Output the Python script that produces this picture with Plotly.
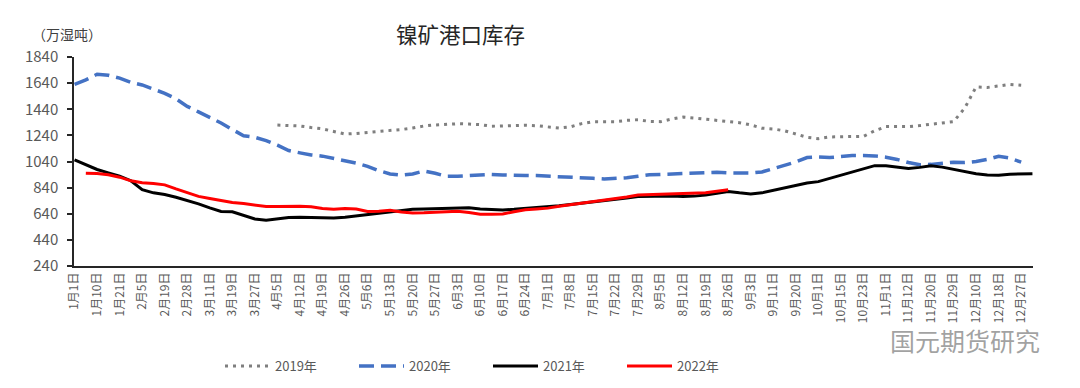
import plotly.graph_objects as go

# Category axis: 86 positions, labels shown on every second position
tick_labels = ["1月1日", "1月10日", "1月21日", "2月5日", "2月19日", "2月28日", "3月11日", "3月19日",
               "3月27日", "4月5日", "4月12日", "4月19日", "4月26日", "5月6日", "5月13日", "5月20日",
               "5月27日", "6月3日", "6月10日", "6月17日", "6月24日", "7月1日", "7月8日", "7月15日",
               "7月22日", "7月29日", "8月5日", "8月12日", "8月19日", "8月26日", "9月3日", "9月11日",
               "9月20日", "10月1日", "10月15日", "10月23日", "11月1日", "11月12日", "11月20日",
               "11月29日", "12月10日", "12月18日", "12月27日"]
n_cat = 86

y2019 = [None] * 18 + [
    1319, 1316, 1312, 1300, 1290, 1270, 1250, 1255, 1262, 1270, 1278, 1285, 1296, 1312, 1320, 1326,
    1329, 1327, 1322, 1310, 1312, 1318, 1318, 1314, 1305, 1296, 1305, 1330, 1345, 1345, 1345, 1355,
    1360, 1347, 1345, 1365, 1380, 1373, 1365, 1353, 1345, 1337, 1320, 1295, 1289, 1275, 1251, 1225,
    1215, 1228, 1230, 1230, 1232, 1275, 1307, 1307, 1307, 1315, 1324, 1333, 1345, 1450, 1611, 1607,
    1620, 1630, 1624, None]

y2020 = [
    1630, 1665, 1708, 1700, 1678, 1645, 1626, 1597, 1562, 1520, 1462, 1420, 1380, 1335, 1285, 1237,
    1225, 1200, 1165, 1124, 1106, 1090, 1081, 1063, 1047, 1028, 1003, 970, 945, 935, 945, 967,
    950, 926, 927, 931, 938, 941, 937, 933, 933, 932, 929, 924, 922, 917, 911, 906,
    910, 916, 927, 938, 941, 944, 945, 948, 952, 957, 953, 951, 952, 960, 985, 1007,
    1036, 1070, 1074, 1070, 1079, 1085, 1085, 1083, 1073, 1056, 1032, 1015, 1018, 1025, 1035, 1032,
    1040, 1056, 1080, 1066, 1035, None]

y2021 = [
    1053, 1013, 979, 953, 928, 893, 825, 800, 787, 766, 742, 716, 685, 658, 655, 626,
    600, 590, 600, 612, 613, 613, 609, 608, 614, 624, 634, 646, 658, 668, 674, 676,
    679, 682, 686, 685, 676, 671, 669, 674, 680, 686, 694, 702, 711, 720, 728, 738,
    749, 760, 772, 775, 777, 776, 773, 775, 784, 800, 811, 800, 791, 800, 818, 840,
    857, 875, 886, 910, 936, 962, 985, 1008, 1008, 1000, 987, 995, 1007, 997, 980, 960,
    946, 937, 934, 943, 946, 946]

y2022 = [None] + [
    951, 948, 938, 920, 892, 877, 872, 861, 830, 800, 773, 757, 740, 726, 718, 704,
    695, 696, 697, 697, 693, 680, 675, 680, 676, 658, 660, 666, 654, 646, 647, 651,
    655, 659, 650, 637, 637, 639, 655, 671, 677, 683, 697, 708, 719, 730, 743, 752,
    768, 783, 786, 790, 793, 796, 798, 801, 812, 824] + [None] * 27

series_names = ["2019年", "2020年", "2021年", "2022年"]

x = list(range(n_cat))
tickvals = list(range(0, n_cat, 2))

FONT = "Noto Sans CJK SC"
TXT = "#595959"

W, H = 1080, 388
L, R, T, B = 66, 55, 49, 130
PW, PH = W - L - R, H - T - B


def px_to_paper(px, py):
    return (px - L) / PW, 1 - (py - T) / PH


fig = go.Figure()
fig.add_trace(go.Scatter(x=x, y=y2019, name=series_names[0], mode="lines", connectgaps=True,
                         line=dict(color="#7F7F7F", width=3, dash="3px,5px")))
fig.add_trace(go.Scatter(x=x, y=y2020, name=series_names[1], mode="lines", connectgaps=True,
                         line=dict(color="#4472C4", width=3.5, dash="15px,7px")))
fig.add_trace(go.Scatter(x=x, y=y2021, name=series_names[2], mode="lines", connectgaps=True,
                         line=dict(color="#000000", width=3)))
fig.add_trace(go.Scatter(x=x, y=y2022, name=series_names[3], mode="lines", connectgaps=True,
                         line=dict(color="#FF0000", width=3)))

ann_specs = [
    ("镍矿港口库存", 452, 25, 21.5, "#262626"),
    ("（万湿吨）", 59, 26, 14, "#404040"),
    ("国元期货研究", 957, 332, 25, "rgba(120,120,120,0.7)"),
]
anns = []
for text, px, py, size, color in ann_specs:
    ax, ay = px_to_paper(px, py)
    anns.append(dict(text=text, x=ax, y=ay, xref="paper", yref="paper", showarrow=False,
                     xanchor="center", yanchor="middle",
                     font=dict(size=size, color=color, family=FONT)))

lx, ly = px_to_paper(212, 358)

fig.update_layout(
    width=W, height=H,
    margin=dict(l=L, r=R, t=T, b=B),
    paper_bgcolor="white", plot_bgcolor="white",
    font=dict(family=FONT, color=TXT),
    showlegend=True,
    legend=dict(orientation="h", x=lx, xanchor="left", y=ly, yanchor="middle",
                font=dict(size=13, color=TXT, family=FONT),
                entrywidth=74, itemwidth=45, bgcolor="rgba(0,0,0,0)"),
    annotations=anns,
)

fig.update_xaxes(range=[-0.05, 85.05], tickmode="array", tickvals=tickvals, ticktext=tick_labels,
                 tickangle=-90, tickfont=dict(size=12, color=TXT, family=FONT),
                 showline=True, linecolor="#262626", linewidth=1.5, ticks="",
                 showgrid=False, zeroline=False)
fig.update_yaxes(range=[240, 1840], tickmode="array", tickvals=list(range(240, 1841, 200)),
                 tickfont=dict(size=15, color=TXT, family=FONT),
                 showline=True, linecolor="#262626", linewidth=1.5,
                 ticks="outside", ticklen=5, tickcolor="#262626", tickwidth=1.5,
                 ticklabelstandoff=6, showgrid=False, zeroline=False)

fig.write_html("out.html")
